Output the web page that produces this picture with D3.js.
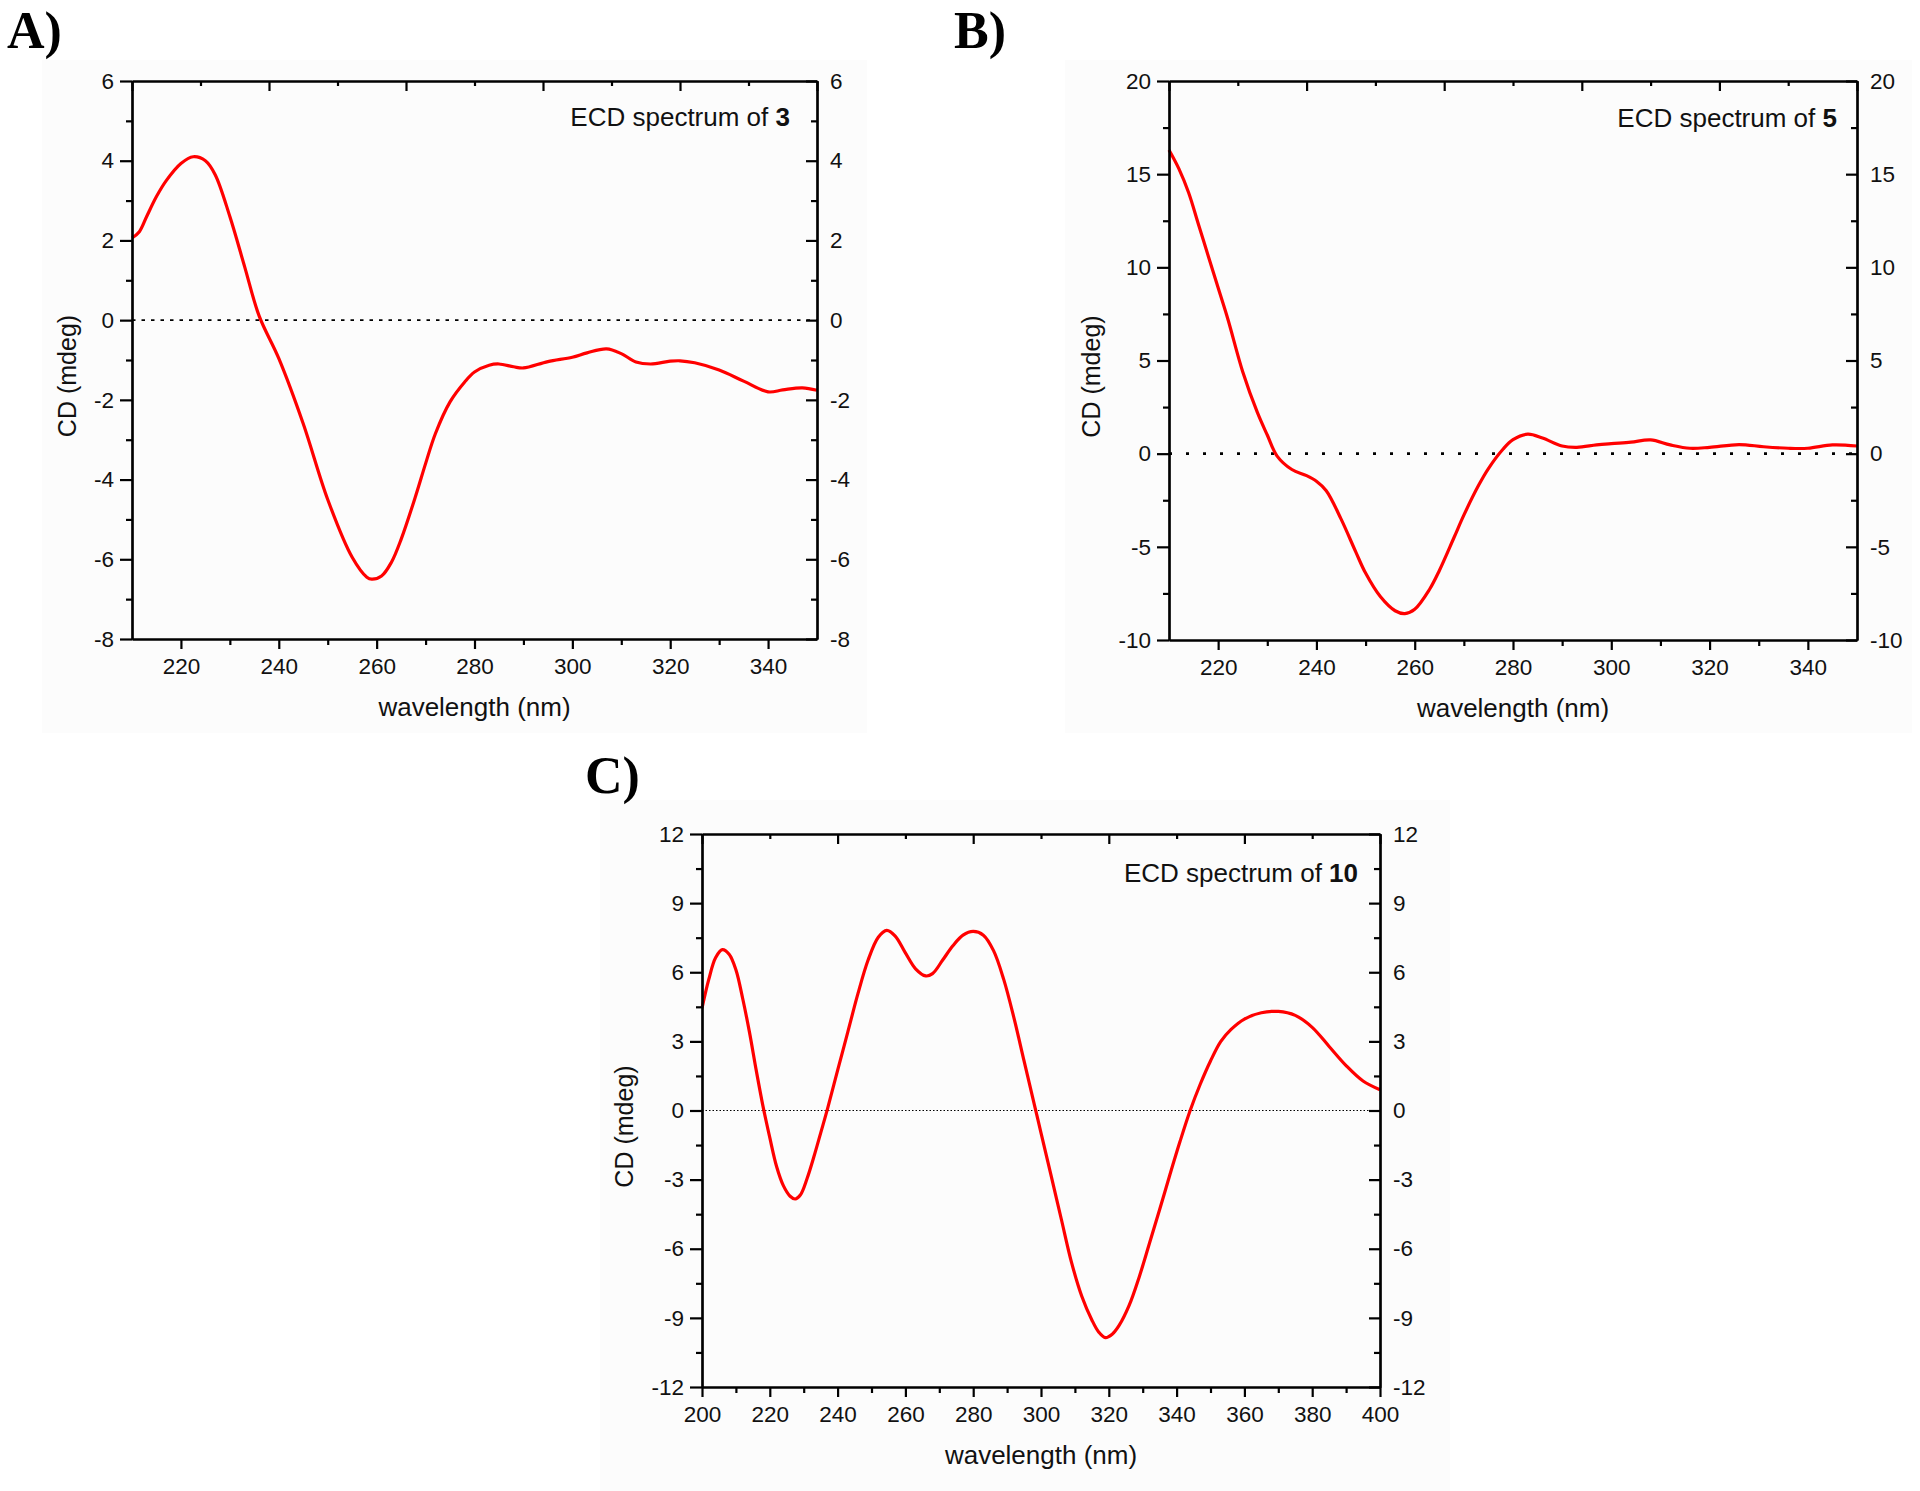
<!DOCTYPE html>
<html><head><meta charset="utf-8">
<script src="https://cdn.jsdelivr.net/npm/d3@7"></script>
<style>body{margin:0;background:#fff} svg{display:block}</style>
</head><body>
<svg id="chart" width="1920" height="1491"></svg>
<script>
// ---------- DATA ----------
// Panel A : ECD spectrum of 3
const wavelengthA = [210,211.5,213,215,217,220,222.5,225,227,230,233,236,240,245,250,255,258,259,261,263,265,268,270,272,275,278,280,283,285,288,290,295,300,303,307,310,313,316,320,322,325,330,335,340,343,347,350];
const cdA = [2.06,2.22,2.6,3.1,3.5,3.93,4.1,4.0,3.65,2.6,1.35,0.1,-0.96,-2.6,-4.5,-5.95,-6.45,-6.5,-6.42,-6.08,-5.5,-4.4,-3.6,-2.85,-2.05,-1.55,-1.3,-1.13,-1.1,-1.17,-1.2,-1.04,-0.93,-0.82,-0.72,-0.84,-1.05,-1.1,-1.03,-1.02,-1.07,-1.25,-1.53,-1.8,-1.75,-1.7,-1.76];
// Panel B : ECD spectrum of 5
const wavelengthB = [210,212,214,216,218,220,222,225,228,230,232,235,238,240,242,245,248,250,253,256,258,260,263,265,268,270,273,275,278,280,283,286,290,293,297,300,304,308,312,316,320,326,331,336,340,345,350];
const cdB = [16.3,15.3,14.0,12.3,10.6,8.9,7.2,4.4,2.2,1.0,-0.13,-0.85,-1.18,-1.48,-1.99,-3.5,-5.27,-6.41,-7.67,-8.43,-8.58,-8.35,-7.29,-6.28,-4.5,-3.3,-1.7,-0.8,0.25,0.75,1.05,0.84,0.41,0.34,0.47,0.54,0.62,0.74,0.47,0.29,0.34,0.49,0.37,0.29,0.29,0.47,0.41];
// Panel C : ECD spectrum of 10
const wavelengthC = [200,202,204,206,208,210,212,214,216,218,220,222,224,226,227.5,229,231,233,235,237,240,243,246,249,252,254.5,257,260,263,266,268,271,274,277,280,283,286,289,292,295,298,300,303,306,309,312,315,317,319,321,323,326,329,332,335,338,341,344,347,350,353,356,360,365,370,375,380,385,390,395,400];
const cdC = [4.44,5.69,6.63,6.98,6.78,6.11,4.86,3.4,1.74,0.18,-1.18,-2.43,-3.26,-3.72,-3.84,-3.67,-2.95,-2.01,-0.98,0.06,1.74,3.4,5.07,6.53,7.52,7.82,7.57,6.84,6.15,5.84,5.94,6.53,7.15,7.61,7.77,7.61,6.94,5.69,4.03,2.15,0.28,-0.97,-2.84,-4.72,-6.59,-8.05,-9.09,-9.61,-9.86,-9.71,-9.34,-8.46,-7.21,-5.76,-4.3,-2.8,-1.35,0.0,1.15,2.15,2.99,3.51,3.97,4.24,4.3,4.13,3.61,2.78,1.95,1.28,0.9];

// Tick values
const xMajorAB = [220,240,260,280,300,320,340];
const xMinorAB = [230,250,270,290,310,330];
const xMajorC = [200,220,240,260,280,300,320,340,360,380,400];
const xMinorC = [210,230,250,270,290,310,330,350,370,390];
const yMajorA = [-8,-6,-4,-2,0,2,4,6];
const yMinorA = [-7,-5,-3,-1,1,3,5];
const yMajorB = [-10,-5,0,5,10,15,20];
const yMinorB = [-7.5,-2.5,2.5,7.5,12.5,17.5];
const yMajorC = [-12,-9,-6,-3,0,3,6,9,12];
const yMinorC = [-10.5,-7.5,-4.5,-1.5,1.5,4.5,7.5,10.5];
const topMajor = [0,2,4,6,8,10];
const topMinor = [1,3,5,7,9];

const panelLabels = ["A)", "B)", "C)"];
const compounds = ["3", "5", "10"];
const xTitle = "wavelength (nm)";
const yTitle = "CD (mdeg)";

// ---------- DRAW ----------
const svg = d3.select("#chart");
const FONT = "Arial, 'Liberation Sans', Helvetica, sans-serif";

function drawPanel(p) {
  const g = svg.append("g");
  g.append("rect").attr("x", p.bg[0]).attr("y", p.bg[1]).attr("width", p.bg[2]).attr("height", p.bg[3]).attr("fill", "#fcfcfc");

  const x = d3.scaleLinear().domain(p.xDomain).range([p.left, p.right]);
  const y = d3.scaleLinear().domain(p.yDomain).range([p.bottom, p.top]);
  const t = d3.scaleLinear().domain([0, 10]).range([p.left, p.right]);

  // zero line
  g.append("line")
    .attr("x1", x(p.xDomain[0])).attr("x2", x(p.xDomain[1]))
    .attr("y1", y(0)).attr("y2", y(0))
    .attr("stroke", "#000").attr("stroke-width", p.zeroWidth)
    .attr("stroke-dasharray", p.zeroDash);

  // curve
  const line = d3.line().x((d, i) => x(p.wl[i])).y(d => y(d)).curve(d3.curveCatmullRom.alpha(0.5));
  g.append("path").datum(p.cd).attr("d", line)
    .attr("fill", "none").attr("stroke", "#ff0000").attr("stroke-width", 3.2)
    .attr("stroke-linejoin", "round");

  const fmt = d => String(d);
  function style(sel) {
    sel.selectAll(".domain").attr("stroke", "#000").attr("stroke-width", 2.2);
    sel.selectAll(".tick line").attr("stroke", "#000").attr("stroke-width", 2.2);
    sel.selectAll("text").attr("font-family", FONT).attr("font-size", 22.5).attr("fill", "#111");
  }
  // bottom
  g.append("g").attr("transform", `translate(0,${p.bottom})`)
    .call(d3.axisBottom(x).tickValues(p.xMinor).tickSize(6).tickSizeOuter(0).tickFormat("")).call(style);
  g.append("g").attr("transform", `translate(0,${p.bottom})`)
    .call(d3.axisBottom(x).tickValues(p.xMajor).tickSize(10).tickSizeOuter(0).tickPadding(9).tickFormat(fmt)).call(style);
  // top (independent 10-division scale, inward ticks)
  g.append("g").attr("transform", `translate(0,${p.top})`)
    .call(d3.axisBottom(t).tickValues(topMinor).tickSize(5).tickSizeOuter(0).tickFormat("")).call(style);
  g.append("g").attr("transform", `translate(0,${p.top})`)
    .call(d3.axisBottom(t).tickValues(topMajor).tickSize(10).tickSizeOuter(0).tickFormat("")).call(style);
  // left
  g.append("g").attr("transform", `translate(${p.left},0)`)
    .call(d3.axisLeft(y).tickValues(p.yMinor).tickSize(6).tickSizeOuter(0).tickFormat("")).call(style);
  g.append("g").attr("transform", `translate(${p.left},0)`)
    .call(d3.axisLeft(y).tickValues(p.yMajor).tickSize(12).tickSizeOuter(0).tickPadding(6).tickFormat(fmt)).call(style);
  // right (inward ticks, labels outside)
  g.append("g").attr("transform", `translate(${p.right},0)`)
    .call(d3.axisRight(y).tickValues(p.yMinor).tickSizeInner(-6).tickSizeOuter(0).tickFormat("")).call(style);
  g.append("g").attr("transform", `translate(${p.right},0)`)
    .call(d3.axisRight(y).tickValues(p.yMajor).tickSizeInner(-11).tickSizeOuter(0).tickPadding(13).tickFormat(fmt)).call(style);

  // titles
  g.append("text").attr("x", (p.left + p.right) / 2).attr("y", p.bottom + 77)
    .attr("text-anchor", "middle").attr("font-family", FONT).attr("font-size", 26).attr("fill", "#111").text(xTitle);
  g.append("text").attr("transform", `translate(${p.left - p.yTitleOff},${(p.top + p.bottom) / 2 + 16}) rotate(-90)`)
    .attr("text-anchor", "middle").attr("font-family", FONT).attr("font-size", 25).attr("fill", "#111").text(yTitle);

  // annotation
  const ann = g.append("text").attr("x", p.right - p.annRight).attr("y", p.annY)
    .attr("text-anchor", "end").attr("font-family", FONT).attr("font-size", 26).attr("fill", "#111");
  ann.append("tspan").text("ECD spectrum of ");
  ann.append("tspan").attr("font-weight", "bold").text(p.compound);

  // panel label
  svg.append("text").attr("x", p.labelX).attr("y", p.labelY)
    .attr("font-family", "'Times New Roman', 'Liberation Serif', serif").attr("font-weight", "bold")
    .attr("font-size", 52).attr("fill", "#000").text(p.label);
}

drawPanel({
  label: panelLabels[0], labelX: 7, labelY: 48, compound: compounds[0],
  left: 132, right: 817, top: 81, bottom: 639, bg: [42, 60, 825, 673],
  xDomain: [210, 350], yDomain: [-8, 6],
  xMajor: xMajorAB, xMinor: xMinorAB, yMajor: yMajorA, yMinor: yMinorA,
  wl: wavelengthA, cd: cdA, zeroDash: "3.5,6", zeroWidth: 1.6,
  yTitleOff: 56, annRight: 27, annY: 126
});
drawPanel({
  label: panelLabels[1], labelX: 954, labelY: 48, compound: compounds[1],
  left: 1169, right: 1857, top: 81, bottom: 640, bg: [1065, 60, 847, 673],
  xDomain: [210, 350], yDomain: [-10, 20],
  xMajor: xMajorAB, xMinor: xMinorAB, yMajor: yMajorB, yMinor: yMinorB,
  wl: wavelengthB, cd: cdB, zeroDash: "3,14", zeroWidth: 2.6,
  yTitleOff: 69, annRight: 20, annY: 127
});
drawPanel({
  label: panelLabels[2], labelX: 585, labelY: 793, compound: compounds[2],
  left: 702, right: 1380, top: 834, bottom: 1387, bg: [600, 800, 850, 691],
  xDomain: [200, 400], yDomain: [-12, 12],
  xMajor: xMajorC, xMinor: xMinorC, yMajor: yMajorC, yMinor: yMinorC,
  wl: wavelengthC, cd: cdC, zeroDash: "1.5,2", zeroWidth: 1.2,
  yTitleOff: 69, annRight: 22, annY: 882
});
</script>
</body></html>
